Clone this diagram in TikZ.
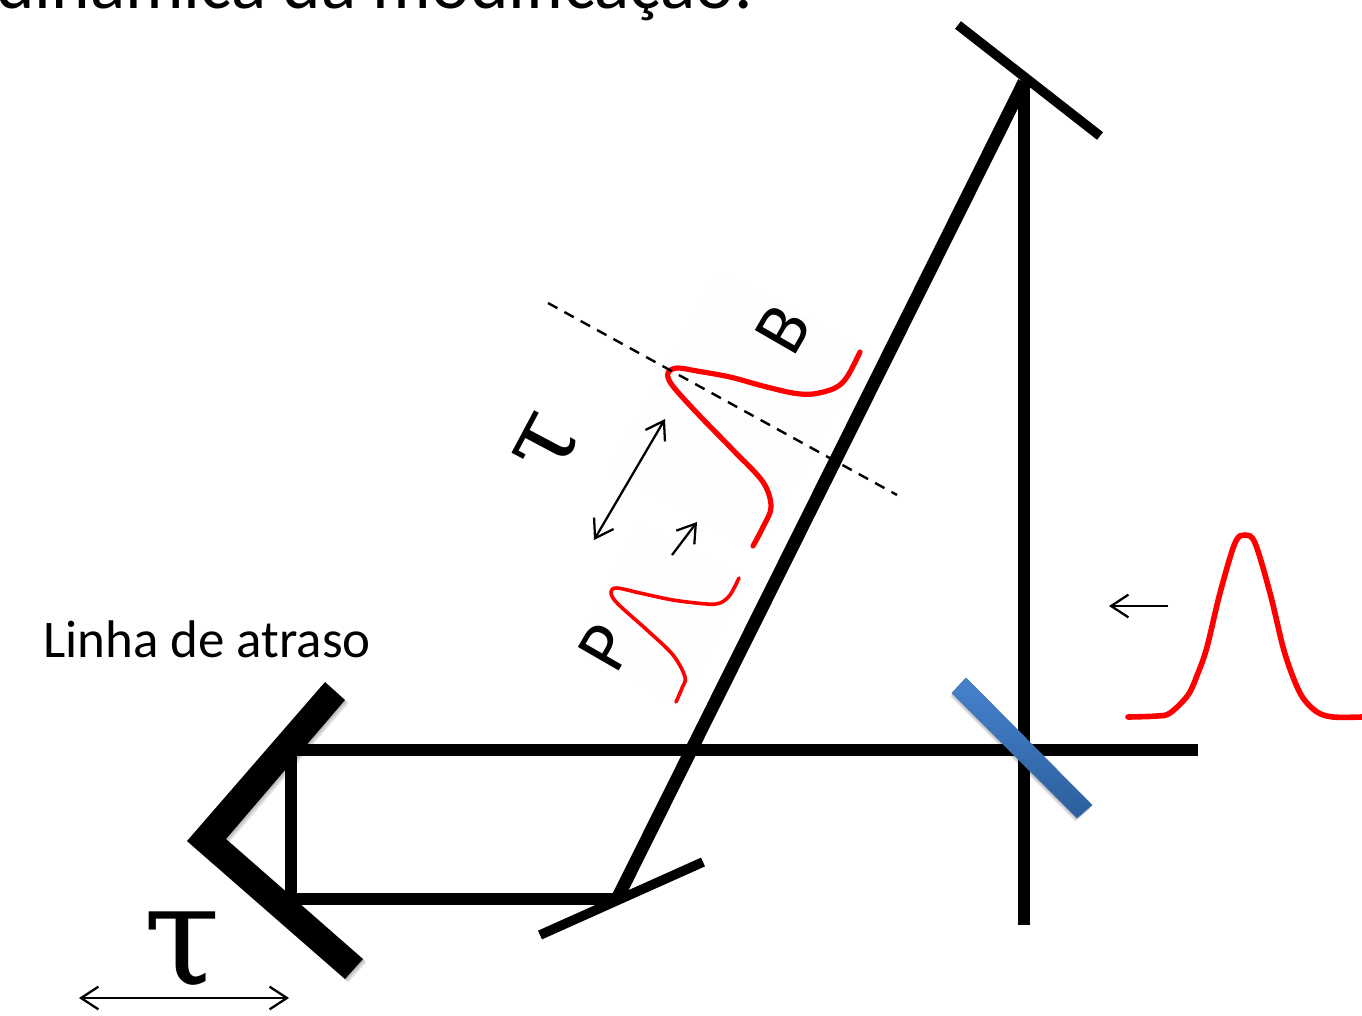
\documentclass[tikz,border=0pt]{standalone}
\usepackage{fontspec}
\setmainfont{Carlito}
\newfontfamily\taufont{DejaVu Serif}
\usetikzlibrary{arrows.meta}
\definecolor{pulsered}{RGB}{255,0,0}
\definecolor{bsA}{RGB}{70,130,205}
\definecolor{bsB}{RGB}{44,94,155}
\definecolor{patch}{RGB}{254,254,254}
\tikzset{
  beam/.style={line width=9.6pt,black},
  mirror/.style={line width=7.2pt,black},
  thinarrow/.style={line width=1.7pt,black,-{Straight Barb[length=13pt,width=17pt,line width=1.7pt]}},
  thinboth/.style={line width=1.7pt,black,{Straight Barb[length=13pt,width=17pt,line width=1.7pt]}-{Straight Barb[length=13pt,width=17pt,line width=1.7pt]}},
  pulse/.style={pulsered,line cap=round,line join=round},
  softshadow/.style={fill=black,opacity=.13,draw=none},
  lab/.style={black,inner sep=0pt}
}
\begin{document}
\begin{tikzpicture}[x=0.75pt,y=-0.75pt]
\useasboundingbox (0,0) rectangle (1362,1015);
\fill[white] (0,0) rectangle (1362,1015);
\fill[patch] (720,272) -- (868,352) -- (757,548) -- (610,470) -- cycle;
\fill[patch] (640,525) -- (745,580) -- (680,705) -- (578,650) -- cycle;
\begin{scope}
\clip (0,0) rectangle (1362,1015);
\node[lab,anchor=base west,font=\fontsize{55pt}{60pt}\selectfont] (head) at (-4,8) {dinâmica da modificação.};
\end{scope}
% beam corners
\coordinate (topM) at (1024,82);
\coordinate (vEnd) at (1024,925);
\coordinate (botM) at (617,899);
\coordinate (hEnd) at (1198,750);
\coordinate (retU) at (291,750);
\coordinate (retL) at (291,899);
% beams
\draw[beam] (topM) -- (vEnd);
\draw[beam] (topM) -- (botM);
\draw[beam] (hEnd) -- (retU) -- (retL) -- (botM);
% flat mirrors
\draw[mirror] (958,25) -- (1100,136);
\draw[mirror] (540,935) -- (703,862);
% retroreflector
\foreach \d in {2,4}
  \fill[softshadow,xshift=\d*0.6pt,yshift=-\d*0.6pt] (325,682) -- (345,700) -- (226,839) -- (363,959) -- (345,979) -- (187,841) -- cycle;
\fill[black] (325,682) -- (345,700) -- (226,839) -- (363,959) -- (345,979) -- (187,841) -- cycle;
% beam splitter
\foreach \d in {2,4}
  \fill[softshadow,xshift=-\d*0.3pt,yshift=-\d*0.6pt] (966,678) -- (1092,805) -- (1077,818) -- (952,693) -- cycle;
\shade[top color=bsA,bottom color=bsB,draw=bsA!90!black,line width=.5pt] (966,678) -- (1092,805) -- (1077,818) -- (952,693) -- cycle;
% incoming pulse
\draw[pulse,line width=4.2pt] plot[smooth,tension=.55] coordinates {(1128,717) (1157,716) (1170,713) (1188,695) (1198,673) (1207,647) (1220,593) (1235,543) (1245,535) (1255,543) (1270,593) (1283,647) (1293,677) (1303,698) (1317,712) (1333,717) (1362,717)};
% pulse B
\draw[pulse,line width=3.9pt] plot[smooth,tension=.55] coordinates {(860,352) (847,377) (835,388) (813,394) (793,393) (763,386) (730,377) (697,371) (677,368) (668,373) (672,385) (697,413) (733,450) (763,482) (771,507) (763,527) (753,546)};
% pulse P
\draw[pulse,line width=2.7pt] plot[smooth,tension=.55] coordinates {(739,578) (730,595) (720,603) (707,604) (673,600) (640,593) (617,588) (611,592) (617,603) (647,630) (673,655) (685,677) (682,688) (676,702)};
% dashed reference
\coordinate (dashA) at (548,303);
\coordinate (dashB) at (897,495);
\draw[black,line width=1.8pt,dash pattern=on 8pt off 6pt] (dashA) -- (dashB);
% small arrows
\coordinate (a1s) at (1168,606); \coordinate (a1e) at (1109,606);
\draw[thinarrow] (a1s) -- (a1e);
\coordinate (a2s) at (672,555); \coordinate (a2e) at (697,522);
\draw[thinarrow] (a2s) -- (a2e);
\coordinate (a3s) at (594,540); \coordinate (a3e) at (665,419);
\draw[thinboth] (a3s) -- (a3e);
\coordinate (a4s) at (79,998); \coordinate (a4e) at (289,998);
\draw[thinboth] (a4s) -- (a4e);
% labels
\node[lab,anchor=base west,font=\fontsize{39.7pt}{44pt}\selectfont] (linha) at (43,657) {Linha de atraso};
\node[lab,font=\fontsize{55pt}{60pt}\selectfont,rotate=60] (bLab) at (783,329) {B};
\node[lab,font=\fontsize{55pt}{60pt}\selectfont,rotate=60] (pLab) at (606,647) {P};
\node[lab,font=\taufont\fontsize{105pt}{105pt}\selectfont] (tauA) at (182,951) {τ};
\node[lab,font=\taufont\fontsize{76pt}{76pt}\selectfont,rotate=62] (tauB) at (548,445) {τ};
\end{tikzpicture}
\end{document}
